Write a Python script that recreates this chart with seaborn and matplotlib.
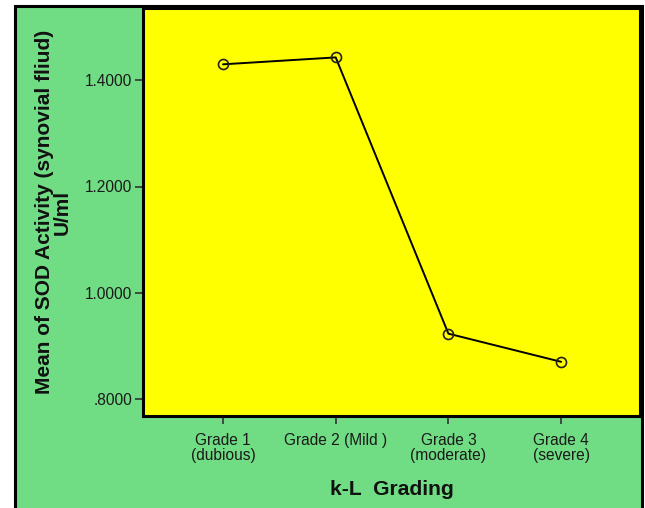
import matplotlib
matplotlib.use("Agg")
import matplotlib.pyplot as plt
import seaborn as sns
import pandas as pd
from matplotlib.patches import Rectangle

categories = ["Grade 1\n(dubious)", "Grade 2 (Mild )", "Grade 3\n(moderate)", "Grade 4\n(severe)"]
sod_mean = [1.430, 1.443, 0.923, 0.870]
y_ticks = [0.8, 1.0, 1.2, 1.4]
y_tick_labels = [".8000", "1.0000", "1.2000", "1.4000"]

sns.set_theme(style="white")
plt.rcParams['font.family'] = ['Liberation Sans', 'DejaVu Sans']

GREEN = "#70DC84"
YELLOW = "#FFFF00"

fig = plt.figure(figsize=(6.45, 5.08), dpi=100, facecolor="white")
# outer green frame
frame = Rectangle((14.5/645, -0.05), (641.5-14.5)/645, 1.05 - 6.5/508,
                  transform=fig.transFigure, facecolor=GREEN, edgecolor="black",
                  linewidth=2.2, zorder=-10)
fig.patches.append(frame)

ax = fig.add_axes([143/645, 1-416/508, (640-143)/645, (416-8)/508])
ax.set_zorder(5)
ax.set_facecolor(YELLOW)

df = pd.DataFrame({"x": range(len(categories)), "y": sod_mean})
sns.lineplot(data=df, x="x", y="y", ax=ax, color="black", linewidth=1.4,
             marker="o", markersize=7.2, markerfacecolor="none",
             markeredgecolor="#222222", markeredgewidth=1.2)

ax.set_xlim(-0.71, 3.70)
ax.set_ylim(0.768, 1.536)
ax.set_xticks(range(len(categories)))
ax.set_xticklabels(categories, fontsize=11.2, color="#1a1a1a", linespacing=1.05)
ax.set_yticks(y_ticks)
ax.set_yticklabels(y_tick_labels, fontsize=11.2, color="#1a1a1a")
ax.tick_params(axis="both", direction="out", length=6, width=1.2, color="#333333",
               bottom=True, left=True)
ax.tick_params(axis="x", pad=6)
ax.tick_params(axis="y", pad=2)
for s in ax.spines.values():
    s.set_visible(True)
    s.set_color("black")
    s.set_linewidth(2.2)

ax.set_xlabel("k-L  Grading", fontsize=15.2, fontweight="bold", color="#111111")
ax.xaxis.set_label_coords(0.5, (416 - 480) / 408)
ax.set_ylabel("Mean of SOD Activity (synovial fliud)\nU/ml", fontsize=15,
              fontweight="bold", linespacing=0.95, color="#111111")
ax.yaxis.set_label_coords((72 - 143) / 497, 0.5)

fig.savefig("out.png", dpi=100, facecolor="white")
